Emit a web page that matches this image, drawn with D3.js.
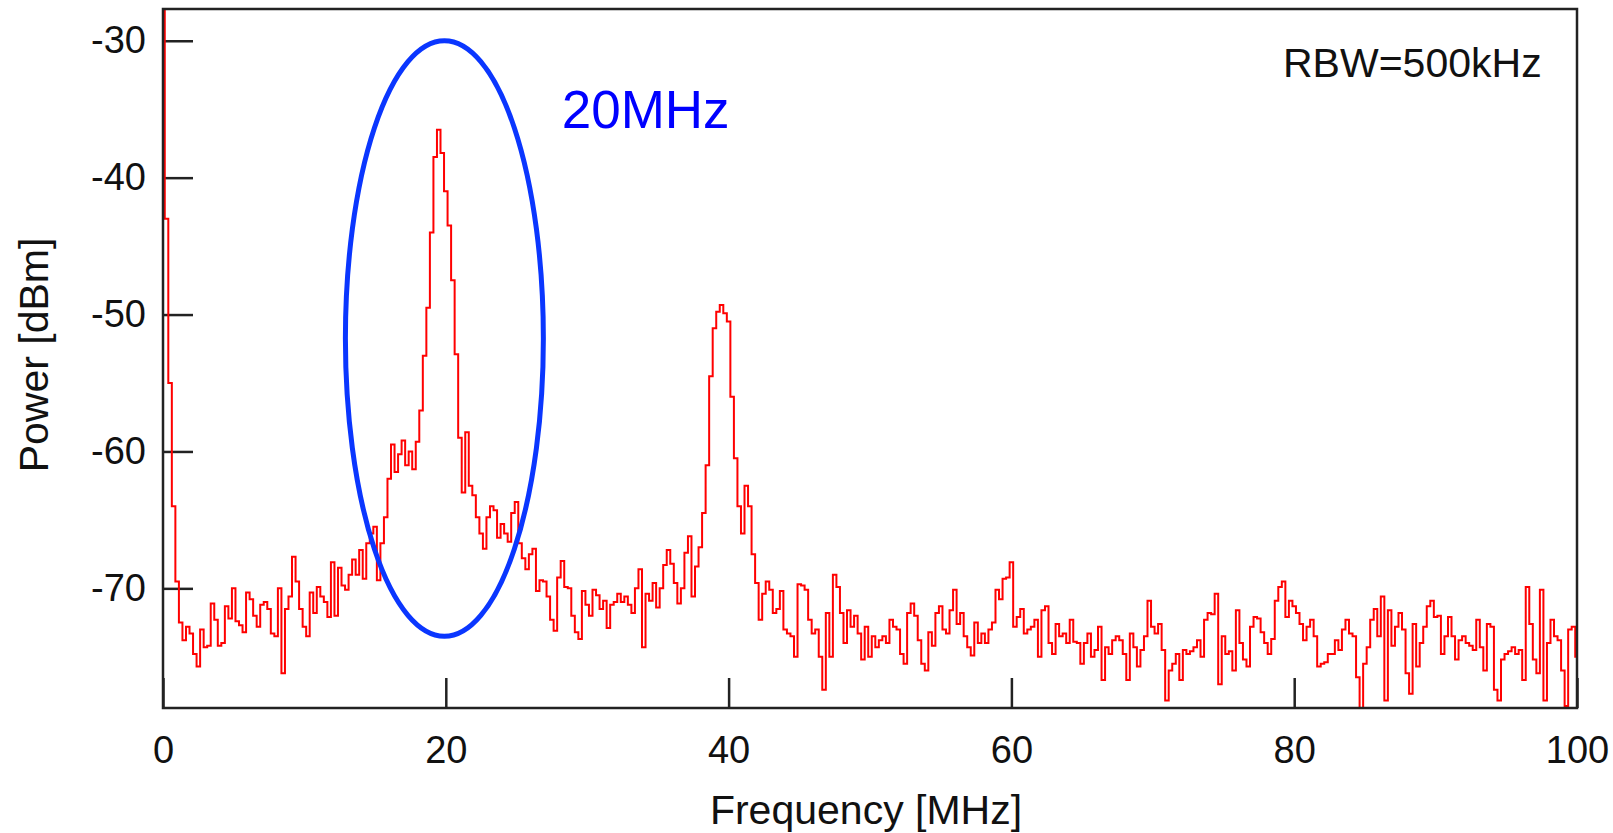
<!DOCTYPE html>
<meta charset="utf-8">
<style>
body {
  margin: 0;
  background: #fff;
}

text {
  font-family: "Liberation Sans", Arial, sans-serif;
  fill: #111;
}

.axis text {
  font-size: 38px;
}

.axis line {
  stroke: #222;
  stroke-width: 2.5px;
}

.frame {
  fill: none;
  stroke: #222;
  stroke-width: 2.5px;
}

.trace {
  fill: none;
  stroke: #ff0000;
  stroke-width: 2px;
}

.title {
  font-size: 41px;
  text-anchor: middle;
}

.note {
  fill: none;
  stroke: #0a36ff;
  stroke-width: 5px;
}
</style>
<svg width="1613" height="833"></svg>
<script src="https://cdn.jsdelivr.net/npm/d3@7"></script>

<script>

// spectrum, one reading every 0.25 MHz from 0 to 100 MHz
const freqStart = 0;
const freqStep = 0.25;
const powerDbm = [
  -27.0, -43.0, -55.0, -64.0, -69.5, -72.5, -73.8, -72.8, -73.3, -74.8, -75.7, -73.0, -74.3, -74.2, -71.1, -72.3, -74.2, -74.0, -71.3, -72.2,
  -70.0, -72.4, -72.7, -73.2, -70.3, -70.8, -72.0, -72.8, -71.2, -71.0, -71.5, -73.3, -73.5, -70.0, -76.2, -71.5, -70.6, -67.7, -69.5, -71.5,
  -72.8, -73.5, -70.3, -71.8, -69.9, -70.6, -71.0, -72.1, -68.1, -72.0, -68.5, -69.8, -70.1, -69.0, -67.9, -69.0, -67.2, -69.3, -66.7, -66.0,
  -65.5, -69.4, -66.7, -64.8, -62.0, -59.5, -61.5, -60.2, -59.2, -61.0, -60.0, -61.3, -59.3, -57.0, -53.0, -49.5, -44.0, -38.5, -36.5, -38.2,
  -41.0, -43.5, -47.5, -52.9, -59.0, -63.0, -58.6, -62.5, -63.2, -64.8, -66.0, -67.1, -64.8, -64.0, -64.3, -66.3, -65.3, -66.0, -66.6, -64.5,
  -63.7, -66.7, -67.8, -68.6, -67.5, -67.1, -70.2, -69.4, -69.5, -70.6, -72.3, -73.1, -69.2, -68.0, -69.9, -70.0, -72.0, -73.2, -73.7, -70.2,
  -71.2, -72.0, -70.1, -70.5, -71.5, -70.9, -72.9, -71.2, -71.0, -70.4, -71.0, -70.6, -71.2, -71.8, -70.0, -68.6, -74.3, -70.4, -70.9, -69.6,
  -71.4, -70.0, -68.3, -67.2, -68.2, -69.6, -71.1, -70.0, -67.4, -66.2, -70.6, -68.4, -67.0, -64.5, -61.0, -54.5, -51.0, -49.8, -49.3, -49.9,
  -50.5, -56.0, -60.5, -64.0, -66.0, -62.5, -64.0, -67.5, -69.6, -72.3, -70.4, -69.5, -70.1, -71.8, -71.5, -70.2, -73.0, -73.3, -73.5, -75.0,
  -69.7, -69.8, -70.1, -72.3, -73.3, -73.0, -75.0, -77.4, -71.8, -75.0, -69.0, -69.9, -71.8, -74.0, -71.6, -72.8, -72.0, -73.3, -75.2, -72.8,
  -75.0, -73.5, -74.3, -73.8, -73.5, -74.0, -72.3, -72.8, -73.0, -74.8, -75.5, -71.8, -71.1, -72.0, -73.8, -75.5, -76.0, -73.2, -74.2, -71.8,
  -71.3, -73.0, -73.3, -71.6, -70.1, -72.6, -71.8, -73.5, -74.3, -74.9, -72.5, -74.0, -73.3, -74.0, -73.0, -72.5, -70.1, -70.8, -69.3, -69.2,
  -68.1, -72.8, -72.1, -71.5, -73.3, -73.0, -72.8, -72.3, -75.0, -71.6, -71.3, -74.0, -74.8, -72.6, -73.5, -73.3, -74.0, -72.3, -73.9, -74.0,
  -75.5, -74.0, -73.3, -75.0, -74.5, -72.8, -76.7, -74.3, -74.8, -73.8, -73.5, -73.8, -74.8, -76.7, -73.3, -74.3, -75.7, -74.5, -73.5, -70.9,
  -72.8, -73.3, -72.6, -74.5, -78.2, -76.0, -75.5, -74.8, -76.7, -74.5, -74.8, -74.6, -74.3, -73.8, -75.0, -72.3, -71.8, -71.9, -70.4, -77.0,
  -73.5, -74.8, -74.6, -76.0, -71.6, -74.0, -75.2, -75.7, -72.8, -72.1, -72.2, -73.2, -74.0, -74.8, -73.7, -70.9, -69.9, -69.5, -72.1, -70.9,
  -71.3, -71.8, -72.6, -73.8, -72.8, -72.3, -73.5, -75.7, -75.5, -75.4, -74.8, -74.8, -73.8, -74.5, -73.0, -72.3, -73.3, -73.5, -76.5, -78.9,
  -75.5, -74.3, -72.3, -71.5, -73.5, -70.6, -78.2, -71.6, -74.2, -72.8, -71.8, -73.0, -76.2, -77.7, -72.6, -75.7, -74.0, -72.8, -71.3, -70.9,
  -72.1, -72.0, -74.8, -73.5, -72.1, -73.5, -75.2, -73.8, -73.5, -74.0, -74.2, -74.5, -72.3, -74.3, -76.0, -72.6, -72.8, -77.4, -78.2, -75.2,
  -74.8, -74.6, -74.3, -74.8, -74.5, -76.7, -69.9, -72.6, -75.2, -76.2, -70.1, -78.2, -74.0, -72.3, -73.5, -73.8, -76.0, -78.6, -73.0, -72.8,
  -75.0
];

const freqTicks = [0, 20, 40, 60, 80, 100];
const powerTicks = [-30, -40, -50, -60, -70];

const xLabel = 'Frequency [MHz]';
const yLabel = 'Power [dBm]';
const rbwLabel = 'RBW=500kHz';
const markLabel = '20MHz';

const spectrum = powerDbm.map((p, i) => ({ f: freqStart + i * freqStep, p }));

const margin = { left: 163, right: 36, top: 9, bottom: 125 };
const width = 1613;
const height = 833;

const x = d3.scaleLinear()
  .domain([0, 100])
  .range([margin.left, width - margin.right]);

const y = d3.scaleLinear()
  .domain([-78.74, -27.68])
  .range([height - margin.bottom, margin.top]);

const svg = d3.select('svg');

svg.append('defs').append('clipPath')
    .attr('id', 'plot-clip')
  .append('rect')
    .attr('x', x(0))
    .attr('y', y.range()[1])
    .attr('width', x(100) - x(0))
    .attr('height', y.range()[0] - y.range()[1]);

// plain hyphen minus, like the original plot
const plain = d => String(d);

svg.append('g')
  .attr('class', 'axis')
  .attr('transform', `translate(0,${y.range()[0]})`)
  .call(d3.axisBottom(x).tickValues(freqTicks).tickFormat(plain).tickSize(-30).tickPadding(28))
  .call(g => g.select('.domain').remove());

svg.append('g')
  .attr('class', 'axis')
  .attr('transform', `translate(${x(0)},0)`)
  .call(d3.axisLeft(y).tickValues(powerTicks).tickFormat(plain).tickSize(-30).tickPadding(17))
  .call(g => g.select('.domain').remove());

svg.selectAll('.axis text').attr('fill', '#111');

const line = d3.line()
  .x(d => x(d.f))
  .y(d => y(d.p))
  .curve(d3.curveStep);

svg.append('path')
  .datum(spectrum)
  .attr('class', 'trace')
  .attr('clip-path', 'url(#plot-clip)')
  .attr('d', line);

svg.append('rect')
  .attr('class', 'frame')
  .attr('x', x(0))
  .attr('y', y.range()[1])
  .attr('width', x(100) - x(0))
  .attr('height', y.range()[0] - y.range()[1]);

// circled 20 MHz tone
const ringF = 19.9, ringP = -51.75;
svg.append('ellipse')
  .attr('class', 'note')
  .attr('cx', x(ringF))
  .attr('cy', y(ringP))
  .attr('rx', x(ringF + 7.0) - x(ringF))
  .attr('ry', y(ringP - 21.75) - y(ringP));

svg.append('text')
  .attr('x', x(28.2))
  .attr('y', y(-36.4))
  .style('font-size', '53px')
  .style('fill', '#0000ff')
  .text(markLabel);

svg.append('text')
  .attr('x', x(97.5))
  .attr('y', y(-32.67))
  .attr('text-anchor', 'end')
  .style('font-size', '41px')
  .text(rbwLabel);

svg.append('text')
  .attr('class', 'title')
  .attr('x', (x(0) + x(100)) / 2 - 4)
  .attr('y', 824)
  .text(xLabel);

svg.append('text')
  .attr('class', 'title')
  .attr('transform', `translate(48,355) rotate(-90)`)
  .text(yLabel);

</script>
